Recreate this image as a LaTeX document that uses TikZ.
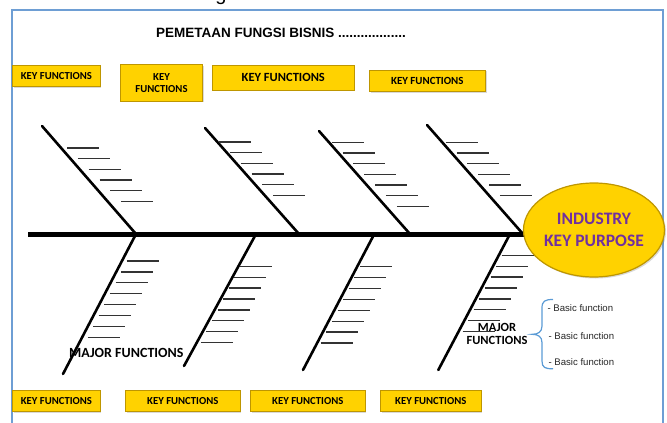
\documentclass[tikz,border=0pt]{standalone}
\usepackage{fontspec}
\setmainfont{Carlito}
\newfontfamily\arialfont{Liberation Sans}
\usetikzlibrary{shapes.geometric,shadows}

\definecolor{keyyellow}{RGB}{255,210,0}
\definecolor{keyedge}{RGB}{190,150,0}
\definecolor{purposeviolet}{RGB}{112,48,160}
\definecolor{framecol}{RGB}{110,158,212}
\definecolor{bracecol}{RGB}{91,155,213}

\tikzset{
    keybox/.style={fill=keyyellow, draw=keyedge, line width=0.8pt, inner sep=0pt, align=center,
        font=\bfseries\fontsize{10.7}{12}\selectfont,
        drop shadow={shadow xshift=1.2pt, shadow yshift=-1.2pt, opacity=0.3}},
    bone/.style={line width=2.6pt, line cap=round},
    ribline/.style={line width=1.3pt, black!80},
    basic/.style={anchor=west, inner sep=0pt, text=black!85,
        font=\arialfont\fontsize{9.6}{11}\selectfont}
}

\begin{document}
\begin{tikzpicture}[x=1pt, y=-1pt]
    \useasboundingbox (0,0) rectangle (667,423);
    \draw[framecol, line width=2pt] (11.7,430) -- (11.7,10) -- (662.7,10) -- (662.7,430);
    \node[anchor=base, inner sep=0pt, font=\arialfont\fontsize{20}{20}\selectfont] (capg) at (221,0.5) {g};
    \node[anchor=west, inner sep=0pt, font=\arialfont\bfseries\fontsize{13.5}{16}\selectfont] (title) at (156,33) {PEMETAAN FUNGSI BISNIS ..................};

    \node[keybox, minimum width=87.3pt, minimum height=21pt] (topkf1) at (56.4,76.2) {KEY FUNCTIONS};
    \node[keybox, minimum width=81.6pt, minimum height=36.7pt] (topkf2) at (161.5,82.7) {KEY\\FUNCTIONS};
    \node[keybox, minimum width=141.3pt, minimum height=24.3pt, font=\bfseries\fontsize{12.5}{14}\selectfont] (topkf3) at (283.3,77.8) {KEY FUNCTIONS};
    \node[keybox, minimum width=116pt, minimum height=21.7pt, font=\bfseries\fontsize{10.9}{12}\selectfont] (topkf4) at (427.3,80.8) {KEY FUNCTIONS};

    \coordinate (tail) at (28,234);
    \coordinate (head) at (530,234);
    \draw[line width=5pt] (tail) -- (head);
    \foreach \tx/\ty/\bx in {42/126/136, 205/128/299, 319/131/410, 427/125/523}
        \draw[bone] (\tx,\ty) -- (\bx,234);
    \foreach \x/\y/\n in {67/148/5, 219/142/5, 331.7/142.3/6, 445.7/142.3/5}
        \foreach \i in {0,...,\n}
            \draw[ribline] ({\x+10.85*\i},{\y+10.7*\i}) -- ++(32,0);
    \foreach \tx/\bx/\by in {136/63/374, 256/184/366, 374.3/303/370, 510/438.3/370}
        \draw[bone] (\tx,234) -- (\bx,\by);
    \foreach \x/\y in {126.7/261, 240/266.3, 360/266.7, 501.7/255.3}
        \foreach \i in {0,...,7}
            \draw[ribline] ({\x-5.6*\i},{\y+10.9*\i}) -- ++(32,0);

    \node[ellipse, fill=keyyellow, draw=keyedge, line width=1.2pt, minimum width=138pt, minimum height=94pt,
        inner sep=0pt, align=center, text=purposeviolet, font=\bfseries\fontsize{17.5}{21.5}\selectfont,
        drop shadow={shadow xshift=1.5pt, shadow yshift=-1.5pt, opacity=0.3}] (purpose) at (594,230) {INDUSTRY\\KEY PURPOSE};

    \node[anchor=west, inner sep=0pt, font=\bfseries\fontsize{14}{16}\selectfont] (major1) at (69,353.3) {MAJOR FUNCTIONS};
    \node[align=center, inner sep=0pt, font=\bfseries\fontsize{12.5}{13.7}\selectfont] (major2) at (497,334) {MAJOR\\FUNCTIONS};

    \draw[bracecol, line width=1.2pt] (553,299.5) .. controls (545,299.5) and (542,301) .. (542,308)
        -- (542,326) .. controls (542,332) and (538,334.3) .. (532,334.3)
        .. controls (538,334.3) and (542,336.6) .. (542,342.6)
        -- (542,361) .. controls (542,367.6) and (545,368.8) .. (553,368.8);
    \node[basic] (basic1) at (547.3,308.3) {- Basic function};
    \node[basic] (basic2) at (548.3,335.7) {- Basic function};
    \node[basic] (basic3) at (548.3,362.3) {- Basic function};

    \node[keybox, minimum width=87.3pt, minimum height=21pt] (botkf1) at (56.4,401.2) {KEY FUNCTIONS};
    \node[keybox, minimum width=114.3pt, minimum height=21pt] (botkf2) at (182.8,401.2) {KEY FUNCTIONS};
    \node[keybox, minimum width=114.3pt, minimum height=21pt] (botkf3) at (307.8,401.2) {KEY FUNCTIONS};
    \node[keybox, minimum width=100.3pt, minimum height=21pt] (botkf4) at (430.8,401.2) {KEY FUNCTIONS};
\end{tikzpicture}
\end{document}
